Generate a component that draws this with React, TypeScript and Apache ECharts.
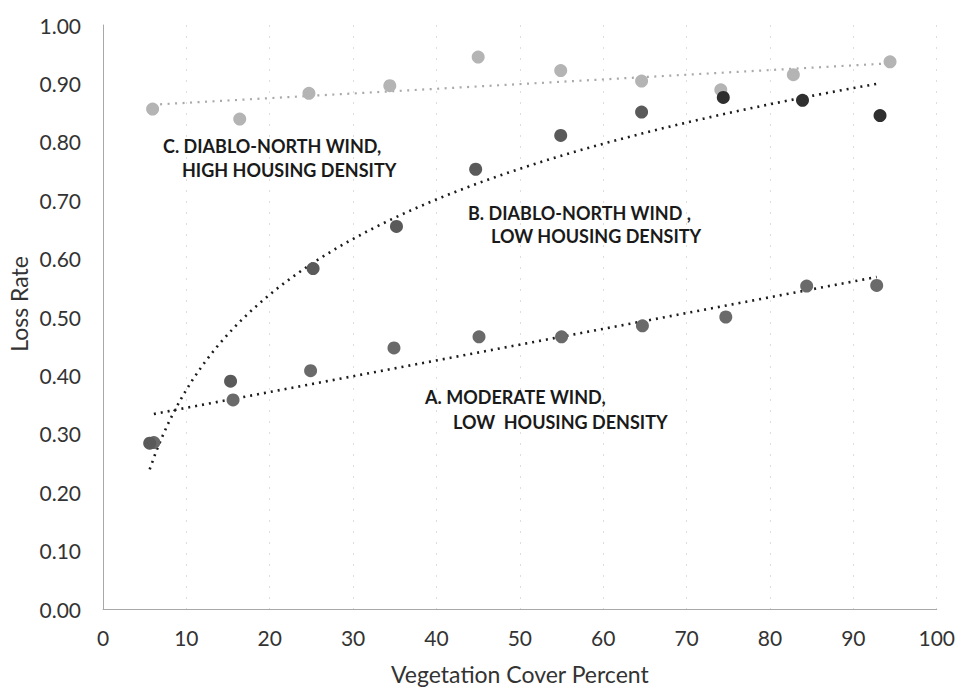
import React, { useEffect, useRef } from "react";
import * as echarts from "echarts";

// Vegetation cover percent (x) and loss rate (y) for each scenario
const seriesAX = [6.1, 15.6, 24.9, 34.9, 45.1, 55.0, 64.7, 74.7, 84.4, 92.8];
const seriesAY = [0.285, 0.358, 0.408, 0.447, 0.466, 0.466, 0.485, 0.5, 0.553, 0.554];
const seriesBX = [5.6, 15.3, 25.2, 35.2, 44.7, 54.9, 64.6, 74.4, 83.9, 93.2];
const seriesBY = [0.284, 0.39, 0.583, 0.655, 0.753, 0.811, 0.851, 0.876, 0.871, 0.845];
const seriesCX = [5.95, 16.4, 24.7, 34.4, 45.0, 54.9, 64.6, 74.1, 82.8, 94.4];
const seriesCY = [0.856, 0.839, 0.883, 0.896, 0.945, 0.922, 0.904, 0.889, 0.915, 0.937];

const labelA = ["A. MODERATE WIND,", "LOW  HOUSING DENSITY"];
const labelB = ["B. DIABLO-NORTH WIND ,", "LOW HOUSING DENSITY"];
const labelC = ["C. DIABLO-NORTH WIND,", "HIGH HOUSING DENSITY"];

const xAxisTitle = "Vegetation Cover Percent";
const yAxisTitle = "Loss Rate";

function pairs(xs: number[], ys: number[]) {
  return xs.map((x, i) => [x, ys[i]]);
}

// least-squares fit y = a + b * f(x)
function fit(xs: number[], ys: number[], f: (x: number) => number) {
  const n = xs.length;
  const fx = xs.map(f);
  const mx = fx.reduce((s, v) => s + v, 0) / n;
  const my = ys.reduce((s, v) => s + v, 0) / n;
  let sxy = 0;
  let sxx = 0;
  for (let i = 0; i < n; i++) {
    sxy += (fx[i] - mx) * (ys[i] - my);
    sxx += (fx[i] - mx) * (fx[i] - mx);
  }
  const b = sxy / sxx;
  const a = my - b * mx;
  return (x: number) => a + b * f(x);
}

function trend(xs: number[], ys: number[], f: (x: number) => number, steps: number) {
  const g = fit(xs, ys, f);
  const lo = Math.min(...xs);
  const hi = Math.max(...xs);
  const out: number[][] = [];
  for (let i = 0; i <= steps; i++) {
    const x = lo + ((hi - lo) * i) / steps;
    out.push([x, g(x)]);
  }
  return out;
}

const FONT = "Lato, 'Open Sans', sans-serif";

export default function App() {
  const ref = useRef<HTMLDivElement>(null);
  useEffect(() => {
    if (!ref.current) return;
    const chart = echarts.init(ref.current, null, { renderer: "svg" });
    const lin = (x: number) => x;
    const log = (x: number) => Math.log(x);
    const labelStyle = { fontFamily: FONT, fontSize: 18, fontWeight: "bold", fill: "#1a1a1a" } as any;
    const mkText = (text: string, x: number, y: number) => ({
      type: "text",
      x,
      y,
      style: { ...labelStyle, text, align: "left", verticalAlign: "middle" },
      z: 10,
    });
    chart.setOption({
      animation: false,
      backgroundColor: "#ffffff",
      grid: { left: 103, right: 19, top: 25, bottom: 77, containLabel: false },
      xAxis: {
        type: "value",
        min: 0,
        max: 100,
        interval: 10,
        name: xAxisTitle,
        nameLocation: "middle",
        nameGap: 53,
        nameTextStyle: { fontFamily: FONT, fontSize: 23, color: "#333" },
        axisLine: { show: true, lineStyle: { color: "#a8a8a8", width: 1 } },
        axisTick: { show: false },
        axisLabel: { fontFamily: FONT, fontSize: 21, color: "#333", margin: 18 },
        splitLine: { show: true, lineStyle: { color: "#dedede", width: 1, type: [2, 9] } },
      },
      yAxis: {
        type: "value",
        min: 0,
        max: 1,
        interval: 0.1,
        axisLine: { show: true, lineStyle: { color: "#a8a8a8", width: 1 } },
        axisTick: { show: false },
        axisLabel: {
          fontFamily: FONT,
          fontSize: 21,
          color: "#333",
          margin: 22,
          formatter: (v: number) => v.toFixed(2),
        },
        splitLine: { show: false },
      },
      graphic: [
        mkText(labelC[0], 163, 146),
        mkText(labelC[1], 182, 169.5),
        mkText(labelB[0], 468, 212.5),
        mkText(labelB[1], 491, 236),
        mkText(labelA[0], 425, 396.5),
        mkText(labelA[1], 453, 421.5),
        {
          type: "text",
          x: 19,
          y: 304,
          rotation: Math.PI / 2,
          style: { text: yAxisTitle, fontFamily: FONT, fontSize: 23, fill: "#333", align: "center", verticalAlign: "middle" },
        },
      ],
      series: [
        {
          name: "C trend",
          type: "line",
          data: trend(seriesCX, seriesCY, lin, 1),
          showSymbol: false,
          symbol: "none",
          lineStyle: { color: "#a9a9a9", width: 2.2, type: [2, 5.5] },
          z: 1,
        },
        {
          name: "B trend",
          type: "line",
          data: trend(seriesBX, seriesBY, log, 120),
          showSymbol: false,
          symbol: "none",
          smooth: false,
          lineStyle: { color: "#1c1c1c", width: 2.6, type: [2, 5] },
          z: 3,
        },
        {
          name: "A trend",
          type: "line",
          data: trend(seriesAX, seriesAY, lin, 1),
          showSymbol: false,
          symbol: "none",
          lineStyle: { color: "#1c1c1c", width: 2.6, type: [2, 5] },
          z: 3,
        },
        {
          name: "C",
          type: "scatter",
          data: pairs(seriesCX, seriesCY),
          symbolSize: 13,
          itemStyle: { color: "#b4b4b4", opacity: 1 },
          z: 2,
        },
        {
          name: "A",
          type: "scatter",
          data: pairs(seriesAX, seriesAY),
          symbolSize: 13,
          itemStyle: { color: "#6a6a6a", opacity: 1 },
          z: 4,
        },
        {
          name: "B",
          type: "scatter",
          data: pairs(seriesBX, seriesBY),
          symbolSize: 13,
          itemStyle: {
            color: (p: any) => (p.dataIndex >= 7 ? "#2f2f2f" : "#5a5a5a"),
            opacity: 1,
          },
          z: 4,
        },
      ],
    });
    return () => chart.dispose();
  }, []);
  return (
    <div
      ref={ref}
      style={{ position: "absolute", left: 0, top: 0, width: 958, height: 690, background: "#fff" }}
    />
  );
}
